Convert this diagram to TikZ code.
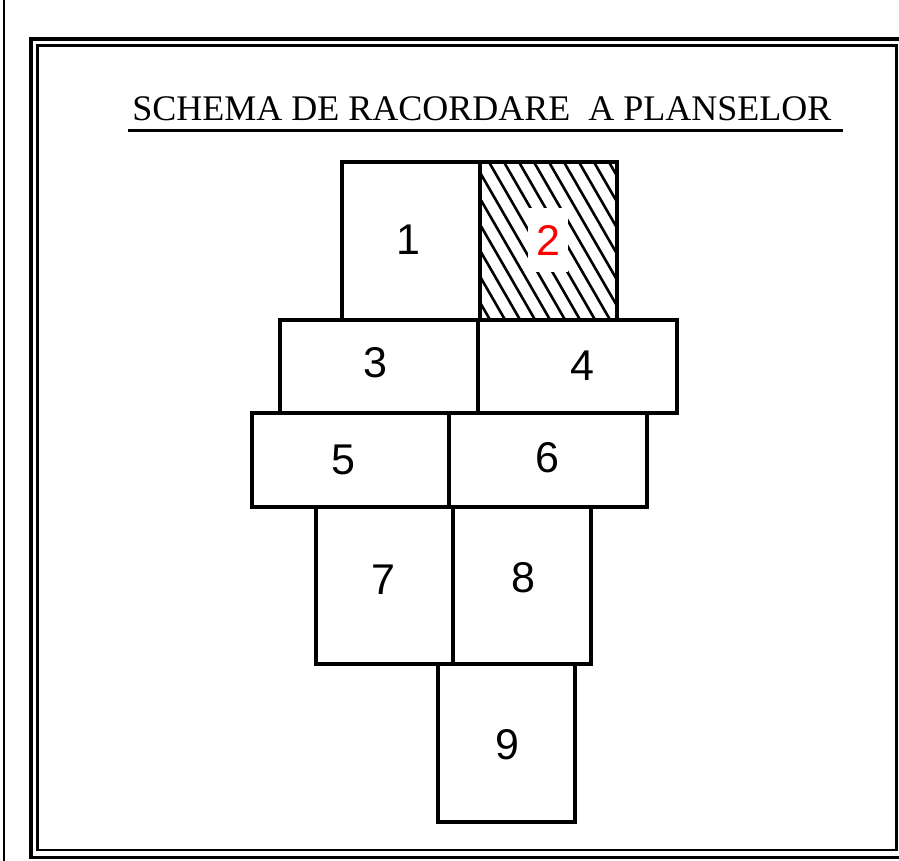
\documentclass[tikz,border=0pt]{standalone}
\usepackage{fontspec}
\newfontfamily\titlefont{Liberation Serif}
\newfontfamily\numfont{Liberation Sans}
\begin{document}
\begin{tikzpicture}[x=1pt,y=-1pt,
  sheet/.style={line width=3.3pt},
  hatchline/.style={line width=2.6pt},
  numlabel/.style={inner sep=0pt,font=\numfont\fontsize{43}{48}\selectfont},
  frameouter/.style={line width=3.5pt},
  frameinner/.style={line width=2.8pt}]
\useasboundingbox (0,0) rectangle (899,860);
% page frames
\draw[line width=1.2pt] (4,-5) -- (4,865);
\draw[frameouter] (31,39) rectangle (910,857.5);
\draw[frameinner] (37.5,45.5) rectangle (896.5,850);
% title
\node[anchor=base,inner sep=0pt,font=\titlefont\fontsize{36}{40}\selectfont] (title) at (482,120) {SCHEMA DE RACORDARE\ \ A PLANSELOR};
\draw[line width=3pt] ([xshift=-4pt,yshift=-10pt]title.base west) -- ([xshift=11pt,yshift=-10pt]title.base east);
% hatching of sheet 2
\begin{scope}
  \clip (480,162) rectangle (617,320);
  \foreach \i in {-8,...,10}{
    \draw[hatchline] (482+15*\i,150) -- ++(100,173.2);
  }
\end{scope}
\node[numlabel,fill=white,minimum width=40pt,minimum height=64pt,text=red] (n2) at (548,240) {2};
% sheets
\draw[sheet] (342,162) rectangle (480,320);
\draw[sheet] (480,162) rectangle (617,320);
\draw[sheet] (280,320) rectangle (478,413);
\draw[sheet] (478,320) rectangle (677,413);
\draw[sheet] (252,413) rectangle (449,507);
\draw[sheet] (449,413) rectangle (647,507);
\draw[sheet] (316,507) rectangle (453,664);
\draw[sheet] (453,507) rectangle (591,664);
\draw[sheet] (438,664) rectangle (575,822);
% labels
\node[numlabel] (n1) at (408,240) {1};
\node[numlabel] (n3) at (375,363) {3};
\node[numlabel] (n4) at (582,366) {4};
\node[numlabel] (n5) at (343,460) {5};
\node[numlabel] (n6) at (547,458) {6};
\node[numlabel] (n7) at (383,580) {7};
\node[numlabel] (n8) at (523,578) {8};
\node[numlabel] (n9) at (507,745) {9};
\end{tikzpicture}
\end{document}
